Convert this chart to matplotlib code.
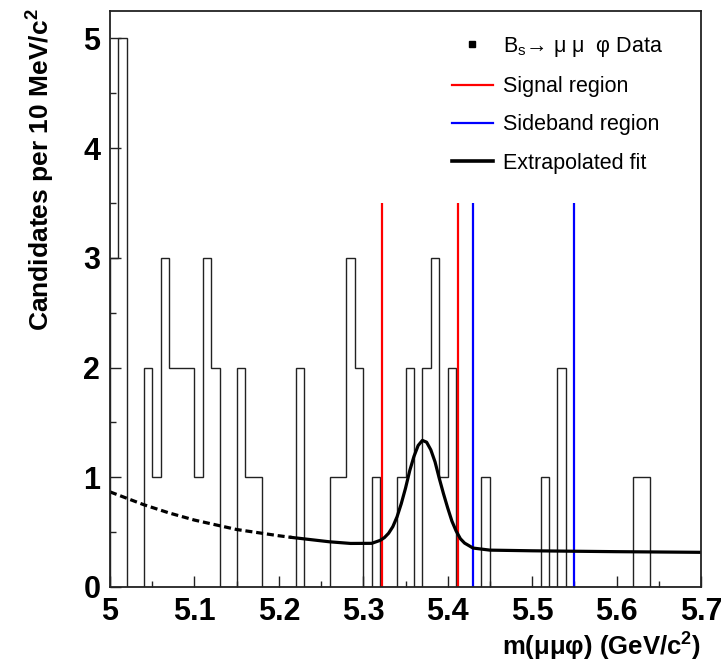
import numpy as np
import matplotlib
matplotlib.use("Agg")
import matplotlib.pyplot as plt
from matplotlib.lines import Line2D
from matplotlib.ticker import MultipleLocator, FormatStrFormatter

plt.rcParams['font.family'] = ['Liberation Sans', 'DejaVu Sans']

# ---- data ----
bin_low = 5.00
bin_high = 5.70
bin_width = 0.01
counts = [3, 5, 0, 0, 2, 1, 3, 2, 2, 2,
          1, 3, 2, 0, 0, 2, 1, 1, 0, 0,
          0, 0, 2, 0, 0, 0, 1, 1, 3, 2,
          0, 1, 0, 0, 1, 2, 0, 2, 3, 1,
          2, 0, 0, 0, 1, 0, 0, 0, 0, 0,
          0, 1, 0, 2, 0, 0, 0, 0, 0, 0,
          0, 0, 1, 1, 0, 0, 0, 0, 0, 0]

signal_region = [5.322, 5.412]
sideband_region = [5.430, 5.550]
region_line_top = 3.5

fit_mass = [5.00, 5.04, 5.07, 5.10, 5.15, 5.20, 5.215, 5.26, 5.285, 5.31,
            5.32, 5.325, 5.33, 5.335, 5.34, 5.345, 5.35, 5.355, 5.36, 5.365,
            5.37, 5.375, 5.38, 5.385, 5.39, 5.395, 5.40, 5.405, 5.41, 5.415,
            5.42, 5.43, 5.45, 5.50, 5.55, 5.60, 5.70]
fit_value = [0.867, 0.75, 0.675, 0.61, 0.524, 0.467, 0.452, 0.412, 0.397, 0.398,
             0.425, 0.45, 0.49, 0.55, 0.64, 0.76, 0.90, 1.06, 1.19, 1.29,
             1.336, 1.32, 1.25, 1.14, 0.99, 0.85, 0.72, 0.60, 0.51, 0.44,
             0.40, 0.355, 0.336, 0.33, 0.326, 0.322, 0.316]
fit_extrapolation_end = 5.215

legend_labels = ["B$_\\mathregular{s}$\u2192 \u03bc \u03bc  \u03c6 Data", "Signal region",
                 "Sideband region", "Extrapolated fit"]

# ---- figure ----
W, H = 721, 664
fig = plt.figure(figsize=(W / 100, H / 100), dpi=100)
ax = fig.add_axes([110 / W, 1 - 587 / H, (701 - 110) / W, (587 - 11) / H])

edges = np.round(np.arange(len(counts) + 1) * bin_width + bin_low, 4)
ax.stairs(counts, edges, color='#222222', lw=1.0, baseline=0)

for x in signal_region:
    ax.plot([x, x], [0, region_line_top], color='#ff0000', lw=1.6, solid_capstyle='butt')
for x in sideband_region:
    ax.plot([x, x], [0, region_line_top], color='#0000ff', lw=1.6, solid_capstyle='butt')

fm = np.array(fit_mass)
fv = np.array(fit_value)
dmask = fm <= fit_extrapolation_end
smask = fm >= fit_extrapolation_end
ax.plot(fm[dmask], fv[dmask], color='black', lw=2.3, linestyle=(0, (2.2, 1.2)))
ax.plot(fm[smask], fv[smask], color='black', lw=2.3, solid_joinstyle='round')

ax.set_xlim(bin_low, bin_high)
ax.set_ylim(0, 5.25)

ax.xaxis.set_major_locator(MultipleLocator(0.1))
ax.xaxis.set_minor_locator(MultipleLocator(0.05))
ax.yaxis.set_major_locator(MultipleLocator(1))
ax.yaxis.set_minor_locator(MultipleLocator(0.5))
ax.xaxis.set_major_formatter(FormatStrFormatter('%g'))
ax.yaxis.set_major_formatter(FormatStrFormatter('%g'))
ax.tick_params(which='both', direction='in', top=False, right=False, width=1.0, color='#222222')
ax.tick_params(which='major', length=8)
ax.tick_params(which='minor', length=4)
ax.tick_params(axis='x', which='major', pad=7)
ax.tick_params(axis='y', which='major', pad=7)
for lab in ax.get_xticklabels() + ax.get_yticklabels():
    lab.set_fontsize(22)
    lab.set_fontweight('bold')
for s in ax.spines.values():
    s.set_linewidth(1.3)
    s.set_color('#222222')

fig.text(40 / W, 1 - 8 / H, "Candidates per 10 MeV/c$^\\mathregular{2}$", rotation=90,
         ha='center', va='top', fontsize=19, fontweight='bold')
fig.text(701 / W, 1 - 646 / H, "m(\u03bc\u03bc\u03c6) (GeV/c$^\\mathregular{2}$)",
         ha='right', va='center', fontsize=18.5, fontweight='bold')

handles = [Line2D([], [], marker='s', color='black', linestyle='none', markersize=5),
           Line2D([], [], color='#ff0000', lw=1.6),
           Line2D([], [], color='#0000ff', lw=1.6),
           Line2D([], [], color='black', lw=2.6)]
leg = ax.legend(handles, legend_labels, loc='upper left',
                bbox_to_anchor=(452 / W, 1 - 35 / H), bbox_transform=fig.transFigure,
                frameon=False, fontsize=15.5, handlelength=1.9, handletextpad=0.47,
                labelspacing=0.8, borderpad=0, borderaxespad=0)

fig.savefig("out.png", dpi=100)
